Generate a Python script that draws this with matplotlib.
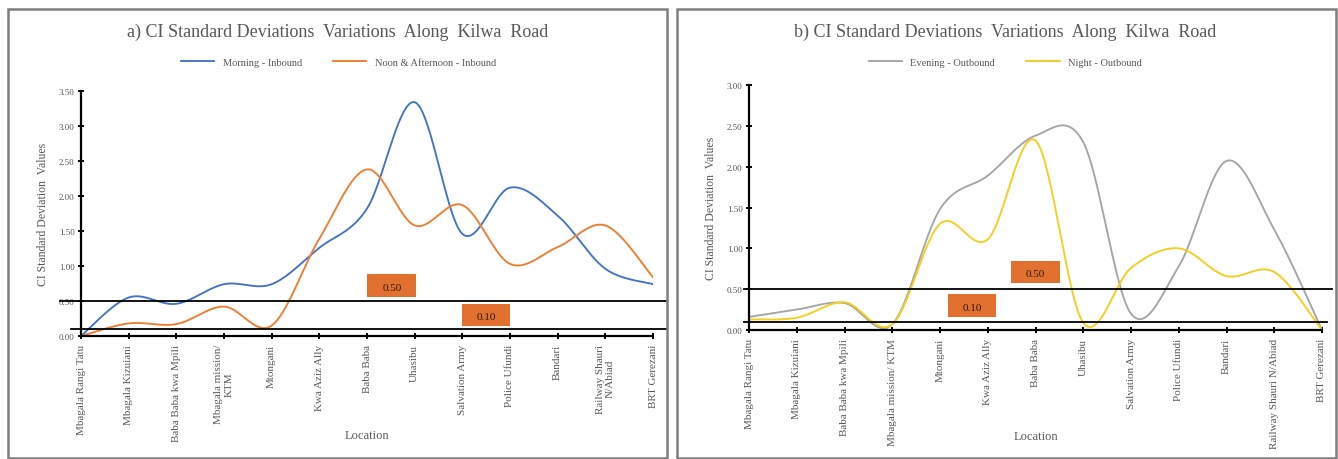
import numpy as np
import matplotlib
matplotlib.use("Agg")
import matplotlib.pyplot as plt
from matplotlib.patches import Rectangle

plt.rcParams['font.family'] = ['Liberation Serif', 'DejaVu Serif']

# Puntos de medición a lo largo de Kilwa Road
lugares_a = ["Mbagala Rangi Tatu", "Mbagala Kizuiani", "Baba Baba kwa Mpili",
             "Mbagala mission/\nKTM", "Mtongani", "Kwa Aziz Ally", "Baba Baba",
             "Uhasibu", "Salvation Army", "Police Ufundi", "Bandari",
             "Railway Shauri\nN/Abiad", "BRT Gerezani"]
lugares_b = ["Mbagala Rangi Tatu", "Mbagala Kizuiani", "Baba Baba kwa Mpili",
             "Mbagala mission/ KTM", "Mtongani", "Kwa Aziz Ally", "Baba Baba",
             "Uhasibu", "Salvation Army", "Police Ufundi", "Bandari",
             "Railway Shauri N/Abiad", "BRT Gerezani"]

# Desviaciones estándar del CI
manana_in = [0.00, 0.55, 0.46, 0.74, 0.74, 1.26, 1.82, 3.34, 1.46, 2.12, 1.72, 0.96, 0.74]
tarde_in = [0.00, 0.18, 0.17, 0.42, 0.15, 1.39, 2.38, 1.58, 1.87, 1.03, 1.27, 1.58, 0.84]
noche_out_gris = [0.16, 0.25, 0.33, 0.07, 1.48, 1.89, 2.38, 2.30, 0.20, 0.78, 2.07, 1.23, 0.00]
noche_out = [0.13, 0.15, 0.34, 0.07, 1.30, 1.11, 2.32, 0.09, 0.76, 1.00, 0.66, 0.71, 0.00]

umbrales = [0.50, 0.10]

gris_texto = "#595959"


#Curva suavizada tipo Excel (Bezier con tangentes Catmull-Rom)
def suavizar(y, pasos=40):
    p = np.column_stack([np.arange(len(y)), np.asarray(y, float)])
    p_ext = np.vstack([p[0], p, p[-1]])
    xs, ys = [], []
    t = np.linspace(0, 1, pasos)[:, None]
    for i in range(len(p) - 1):
        p0, p1, p2, p3 = p_ext[i], p_ext[i + 1], p_ext[i + 2], p_ext[i + 3]
        c1 = p1 + (p2 - p0) / 6
        c2 = p2 - (p3 - p1) / 6
        b = ((1 - t) ** 3) * p1 + 3 * ((1 - t) ** 2) * t * c1 + 3 * (1 - t) * t ** 2 * c2 + t ** 3 * p2
        xs.append(b[:, 0])
        ys.append(b[:, 1])
    return np.concatenate(xs), np.concatenate(ys)


def panel(ax, etiquetas, series, ymax, centro_x, leyenda_y, pad_x, ext_lineas, cajas, alto_caja):
    for datos, color, nombre in series:
        xs, ys = suavizar(datos)
        ax.plot(xs, ys, color=color, lw=1.35, label=nombre, zorder=3)

    ax.set_xlim(0, len(etiquetas) - 1)
    ax.set_ylim(0, ymax)
    ax.set_xticks(range(len(etiquetas)))
    ax.set_xticklabels(etiquetas, rotation=90, fontsize=8, color=gris_texto, va="top")
    ax.set_yticks(np.arange(0, ymax + 0.01, 0.5))
    ax.set_yticklabels(["%.2f" % v for v in np.arange(0, ymax + 0.01, 0.5)], fontsize=6.5, color=gris_texto)
    for s in ["top", "right"]:
        ax.spines[s].set_visible(False)
    for s in ["left", "bottom"]:
        ax.spines[s].set_linewidth(1.6)
        ax.spines[s].set_color("black")
        ax.spines[s].set_zorder(5)
    ax.tick_params(axis="both", direction="inout", length=5, width=1.4, colors="black", pad=2)
    ax.tick_params(axis="x", pad=3)
    for lbl in ax.get_xticklabels() + ax.get_yticklabels():
        lbl.set_color(gris_texto)

    ax.set_xlabel("Location", fontsize=9, color=gris_texto, labelpad=pad_x)
    ax.set_ylabel("CI Standard Deviation  Values", fontsize=8.5, color=gris_texto, labelpad=7)

    #Líneas de umbral con su recuadro naranja
    for u, (x0, x1) in zip(umbrales, ext_lineas):
        ax.plot([x0, x1], [u, u], color="black", lw=1.3, clip_on=False, zorder=4)
    for u, (cx, cy) in zip(umbrales, cajas):
        ax.add_patch(Rectangle((cx - 0.51, cy - alto_caja / 2), 1.02, alto_caja,
                               facecolor="#E2712F", edgecolor="none", zorder=2, clip_on=False))
        ax.text(cx, cy - alto_caja * 0.08, "%.2f" % u, ha="center", va="center",
                fontsize=8, color="#2a1a10", zorder=3)

    ax.legend(loc="center", bbox_to_anchor=(centro_x, leyenda_y), ncol=2, frameon=False,
              fontsize=7.5, handlelength=3.2, columnspacing=3.0, labelcolor=gris_texto)


fig = plt.figure(figsize=(13.38, 4.6), dpi=100)

#Marcos de cada gráfico
for x0, x1 in [(8, 667), (677, 1336)]:
    fig.patches.append(Rectangle((x0 / 1338, 0.002), (x1 - x0) / 1338, (449 / 460),
                                 transform=fig.transFigure, fill=False,
                                 edgecolor="#7f7f7f", lw=1.8))

ax1 = fig.add_axes([81 / 1338, 123 / 460, 572 / 1338, 245 / 460])
panel(ax1, lugares_a,
      [(manana_in, "#4472C4", "Morning - Inbound"), (tarde_in, "#ED7D31", "Noon & Afternoon - Inbound")],
      3.5, 0.45, 1.118, -8.5,
      [(-0.45, 12.3), (-0.2, 12.3)], [(6.52, 0.72), (8.5, 0.30)], 0.32)

ax2 = fig.add_axes([749 / 1338, 129 / 460, 573 / 1338, 245 / 460])
panel(ax2, lugares_b,
      [(noche_out_gris, "#A5A5A5", "Evening - Outbound"), (noche_out, "#F2CF1F", "Night - Outbound")],
      3.0, 0.447, 1.094, -13,
      [(-0.1, 12.2), (-0.1, 12.1)], [(6.0, 0.71), (4.67, 0.30)], 0.28)

fig.text(338 / 1338, 1 - 32 / 460, "a) CI Standard Deviations  Variations  Along  Kilwa  Road",
         ha="center", va="center", fontsize=13, color=gris_texto)
fig.text(1005 / 1338, 1 - 32 / 460, "b) CI Standard Deviations  Variations  Along  Kilwa  Road",
         ha="center", va="center", fontsize=13, color=gris_texto)

plt.savefig("out.png", dpi=100)
